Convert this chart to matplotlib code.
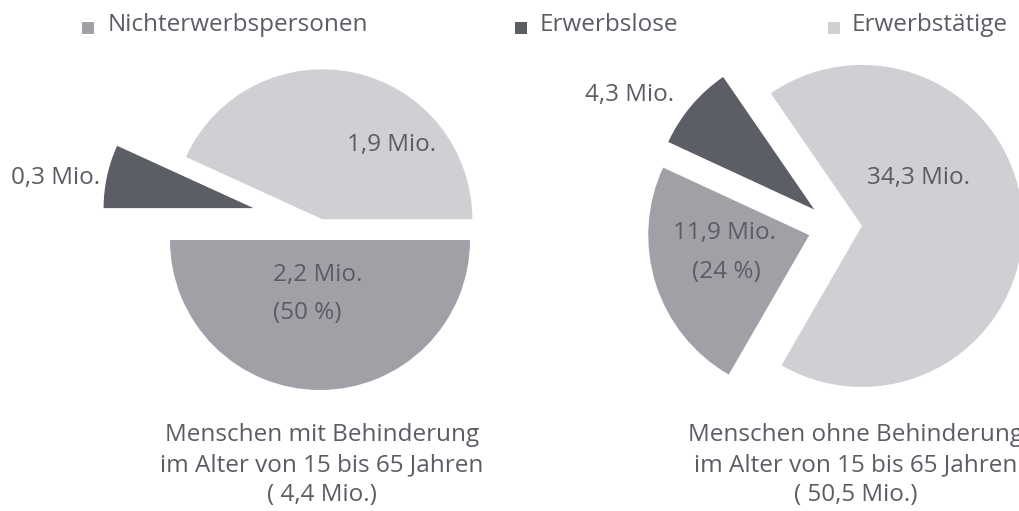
import matplotlib
matplotlib.use("Agg")
import matplotlib.pyplot as plt

plt.rcParams["font.family"] = ["Open Sans", "DejaVu Sans"]

# ── Daten ────────────────────────────────────────────────────────────────────
categories   = ["Erwerbstätige", "Erwerbslose", "Nichterwerbspersonen"]
mit_behind   = [1.9, 0.3, 2.2]      # Mio., Menschen mit Behinderung
ohne_behind  = [34.3, 4.3, 11.9]    # Mio., Menschen ohne Behinderung
total_mit    = 4.4
total_ohne   = 50.5
share_mit    = 50                   # % Nichterwerbspersonen
share_ohne   = 24
legend_order = ["Nichterwerbspersonen", "Erwerbslose", "Erwerbstätige"]

COLORS = {"Erwerbstätige": "#cfd0d4", "Erwerbslose": "#5c5e66",
          "Nichterwerbspersonen": "#a0a1a6"}
TXT = "#5b5c64"
W, H = 1019, 511

def de(v):
    return f"{v:.1f}".replace(".", ",")

fig = plt.figure(figsize=(W / 100, H / 100), dpi=100)
ax = fig.add_axes([0, 0, 1, 1])
cols = [COLORS[c] for c in categories]

# linke Torte (pixel-koordinaten, y nach oben; explode in pixeln)
wl, _ = ax.pie(mit_behind, colors=cols, startangle=0, counterclock=True,
               explode=[11, 70, 10], center=(320, H - 230), radius=150,
               wedgeprops=dict(linewidth=0))
# Erwerbslose-Stueck etwas hoeher versetzt wie im Original
cx, cy = wl[1].center
wl[1].set_center((cx + 2, cy + 7))

# rechte Torte
ax.pie(ohne_behind, colors=cols, startangle=-120, counterclock=True,
       explode=[27, 27, 27], center=(835, H - 227), radius=161,
       wedgeprops=dict(linewidth=0))

ax.set_xlim(0, W)
ax.set_ylim(0, H)
ax.set_aspect("equal")
ax.axis("off")

fs = 17.5
def txt(x, y, s, **kw):
    ax.text(x, H - y, s, fontsize=fs, color=TXT, va="center", **kw)

# Beschriftungen
txt(392, 145, f"{de(mit_behind[0])} Mio.", ha="center")
txt(56, 178, f"{de(mit_behind[1])} Mio.", ha="center")
txt(273, 275, f"{de(mit_behind[2])} Mio.", ha="left")
txt(273, 313, f"({share_mit} %)", ha="left")
txt(919, 178, f"{de(ohne_behind[0])} Mio.", ha="center")
txt(630, 95, f"{de(ohne_behind[1])} Mio.", ha="center")
txt(725, 233, f"{de(ohne_behind[2])} Mio.", ha="center")
txt(726, 272, f"({share_ohne} %)", ha="center")

# Untertitel
for cx, grp, tot in [(322, "mit", total_mit), (856, "ohne", total_ohne)]:
    txt(cx, 435, f"Menschen {grp} Behinderung", ha="center")
    txt(cx, 465, "im Alter von 15 bis 65 Jahren", ha="center")
    txt(cx, 495, f"( {de(tot)} Mio.)", ha="center")

# Legende
for (sx, tx), name in zip([(88, 108), (521, 540), (834, 852)], legend_order):
    ax.scatter([sx], [H - 28], marker="s", s=75, color=COLORS[name], linewidths=0)
    txt(tx, 25, name, ha="left")

fig.savefig("out.png", dpi=100)
